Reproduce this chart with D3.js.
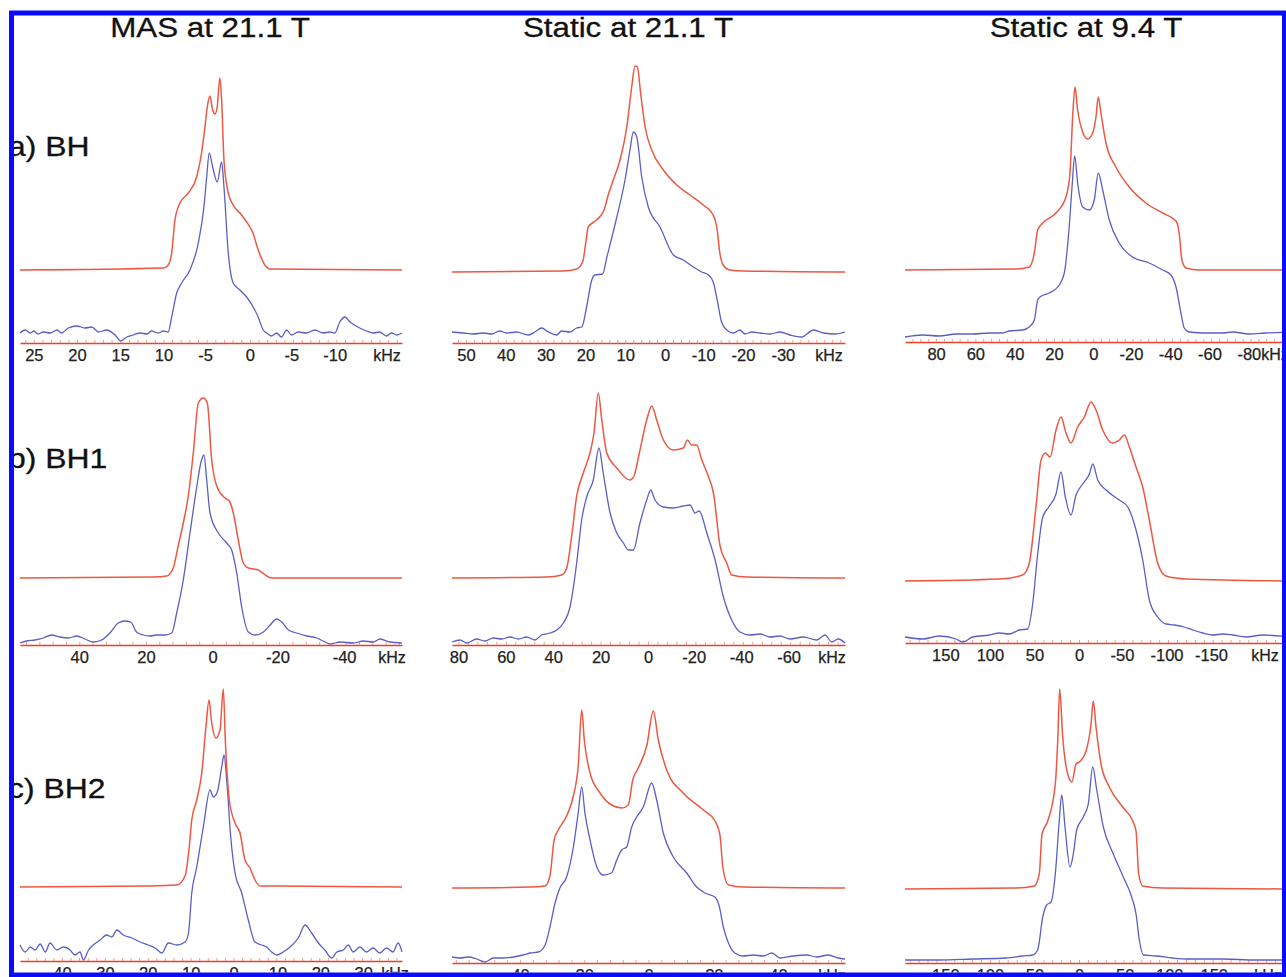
<!DOCTYPE html>
<html>
<head>
<meta charset="utf-8">
<script src="https://cdn.jsdelivr.net/npm/d3@7"></script>
<style>
  html, body { margin: 0; background: #fff; }
  svg { display: block; }
</style>
</head>
<body>
<div id="fig"></div>
<script>
/* 11B NMR spectra: simulated (red, top) vs experimental (blue, bottom) */

const columnTitles = ["MAS at 21.1 T", "Static at 21.1 T", "Static at 9.4 T"];
const rowLabels = ["a) BH", "b) BH1", "c) BH2"];

/* spectral window shown in each panel, kHz (left, right) */
const spanMas    = [[26.6, -17.6], [57.8, -56.9], [49.8, -39.3]];
const spanStat21 = [[53.5, -45.2], [82.7, -83.1], [61.2, -61.2]];
const spanStat94 = [[95.8, -100.1], [195.3, -236.8], [195.3, -236.8]];

/* tick values and the labels printed under them */
const ticksMas = [[25, 20, 15, 10, 5, 0, -5, -10], [40, 20, 0, -20, -40], [40, 30, 20, 10, 0, -10, -20, -30]];
const labelsMas = [["25", "20", "15", "10", "-5", "0", "-5", "-10"], ["40", "20", "0", "-20", "-40"],
  ["40", "30", "20", "10", "0", "-10", "-20", "-30"]];
const ticksStat21 = [[50, 40, 30, 20, 10, 0, -10, -20, -30], [80, 60, 40, 20, 0, -20, -40, -60], [40, 20, 0, -20, -40]];
const labelsStat21 = [["50", "40", "30", "20", "10", "0", "-10", "-20", "-30"],
  ["80", "60", "40", "20", "0", "-20", "-40", "-60"], ["40", "20", "0", "-20", "-40"]];
const ticksStat94 = [[80, 60, 40, 20, 0, -20, -40, -60, -80], [150, 100, 50, 0, -50, -100, -150], [150, 100, 50, 0, -50, -100, -150]];
const labelsStat94 = [["80", "60", "40", "20", "0", "-20", "-40", "-60", "-80"],
  ["150", "100", "50", "0", "-50", "-100", "-150"], ["150", "100", "50", "0", "-50", "-100", "-150"]];

/* spectra: [kHz, intensity a.u.] */
const bhMasSim = [[26.6,0],[10.0,2],[9.45,5],[9.05,17],[8.67,50],[8.09,67],[7.13,77],[6.16,93],[5.59,117],[5.2,143],[4.93,163],[4.62,174],[4.31,160],[4.05,156],[3.78,163],[3.47,192],[3.27,170],[3.0,110],[2.5,77],[1.93,65],[0.96,55],[0,43],[-0.31,38],[-0.96,20],[-1.73,5],[-2.31,1],[-17.6,0]];
const bhMasExp = [[26.6,10],[26.0,13],[25.4,10],[25.0,12],[24.5,9],[23.9,11],[23.1,10],[22.3,13],[21.8,10],[21.0,15],[20.0,17],[19.1,15],[18.3,16],[17.5,11],[16.6,13],[15.6,8],[14.95,2],[14.25,6],[13.5,8],[12.7,10],[11.9,9],[11.4,12],[10.6,10],[10.0,12],[9.45,11],[9.05,26],[8.47,50],[7.9,60],[6.94,73],[5.97,100],[5.32,136],[5.0,166],[4.7,190],[4.31,176],[3.78,161],[3.27,181],[3.0,156],[2.5,90],[1.93,60],[1.16,53],[0.38,46],[-0.38,36],[-0.96,26],[-1.54,13],[-1.93,10],[-2.5,7],[-3.08,10],[-3.66,6],[-4.24,13],[-4.82,8],[-5.59,11],[-6.55,10],[-7.51,13],[-8.47,10],[-9.25,11],[-9.83,10],[-10.4,21],[-11.0,26],[-11.6,21],[-12.1,18],[-12.7,15],[-13.5,12],[-14.3,10],[-15.0,11],[-15.8,7],[-16.4,10],[-17.0,8],[-17.6,10]];

const bhStat21Sim = [[53.5,0],[25.6,1],[22.2,3],[20.7,10],[19.8,32],[19.3,45],[17.2,52],[15.3,62],[14.2,78],[13.0,92],[11.3,112],[9.6,145],[8.37,185],[7.54,206],[6.95,205],[6.1,178],[5.0,145],[3.34,122],[0.42,102],[-2.94,87],[-6.28,77],[-9.6,67],[-12.1,57],[-13.0,45],[-13.8,18],[-14.6,7],[-16.3,2],[-19.7,1],[-45.2,0]];
const bhStat21Exp = [[53.5,11],[50.7,10],[48.2,9],[45.7,10],[43.5,9],[41.5,12],[39.8,10],[37.3,11],[34.3,8],[32.7,11],[31.0,15],[29.3,11],[27.2,8],[26.0,12],[23.9,11],[22.2,15],[20.9,16],[19.7,36],[18.4,63],[17.6,68],[15.7,69],[14.6,86],[12.1,126],[10.05,163],[8.8,193],[7.96,211],[7.1,206],[5.85,166],[4.2,136],[1.26,116],[-2.1,88],[-4.6,83],[-7.1,76],[-9.2,71],[-10.9,68],[-12.1,61],[-13.1,43],[-14.2,21],[-15.5,13],[-17.2,10],[-18.8,13],[-20.1,9],[-21.8,11],[-23.9,10],[-26.4,9],[-28.9,11],[-31.4,8],[-34.3,6],[-37.3,13],[-39.8,10],[-42.7,9],[-45.2,11]];

const bhStat94Sim = [[95.8,0],[39.3,1],[32.6,3],[30.0,17],[28.3,40],[25.7,47],[19.0,57],[13.9,73],[11.85,97],[10.5,153],[9.3,183],[7.95,160],[5.4,138],[2.85,131],[0.3,137],[-1.37,153],[-2.54,173],[-3.9,157],[-6.46,127],[-11.5,103],[-18.3,83],[-26.8,67],[-35.3,57],[-42.1,49],[-43.7,37],[-45.1,10],[-47.2,2],[-53.9,0],[-100.1,0]];
const bhStat94Exp = [[95.8,5],[86.8,7],[78.3,6],[69.8,8],[61.3,8],[52.9,9],[46.1,9],[42.7,11],[35.9,12],[32.6,15],[30.0,22],[28.3,42],[27.1,45],[22.4,49],[18.1,55],[14.75,69],[12.5,109],[10.8,155],[9.46,186],[7.95,159],[5.4,135],[2.03,132],[-0.5,142],[-2.54,169],[-4.78,152],[-8.14,122],[-13.2,99],[-20.0,85],[-28.5,79],[-35.3,72],[-39.5,67],[-42.1,55],[-44.6,29],[-46.3,14],[-48.8,10],[-57.3,9],[-65.8,9],[-70.9,10],[-79.3,8],[-87.8,9],[-100.1,10]];

const bh1MasSim = [[57.8,0],[17.8,1],[13.75,2],[11.8,10],[10.3,32],[8.77,55],[7.27,82],[5.77,125],[4.26,175],[2.76,180],[1.56,175],[0.24,118],[-1.26,92],[-3.75,80],[-5.05,77],[-6.25,65],[-7.75,38],[-9.25,15],[-10.75,10],[-13.75,8],[-16.3,2],[-17.8,0],[-56.9,0]];
const bh1MasExp = [[57.8,2],[55.8,4],[53.3,5],[50.8,7],[48.3,10],[45.8,8],[43.3,7],[40.8,9],[38.3,6],[35.8,3],[33.3,5],[30.8,12],[28.3,22],[26.3,24],[24.6,23],[22.8,13],[20.8,10],[18.8,9],[16.8,10],[14.3,10],[12.25,12],[10.75,32],[8.77,65],[6.76,112],[4.74,158],[3.45,183],[2.55,190],[1.74,165],[0.75,132],[-1.74,112],[-4.26,102],[-5.76,95],[-7.27,72],[-8.77,38],[-10.75,13],[-12.8,10],[-15.3,13],[-17.3,20],[-19.3,26],[-20.8,23],[-22.8,15],[-25.3,12],[-28.3,9],[-31.3,7],[-33.8,3],[-35.3,1],[-38.3,3],[-42.3,2],[-45.3,4],[-48.3,3],[-50.3,6],[-53.3,3],[-56.9,2]];

const bh1Stat21Sim = [[82.7,0],[42.7,1],[36.4,3],[34.3,10],[32.2,42],[30.1,82],[27.3,105],[24.5,125],[22.8,145],[21.0,185],[19.5,158],[17.4,125],[13.2,110],[7.6,98],[5.9,102],[3.67,125],[0.55,158],[-1.56,172],[-3.67,158],[-6.46,138],[-10.7,128],[-14.9,130],[-16.6,138],[-18.4,133],[-20.5,133],[-22.7,118],[-25.4,102],[-27.6,85],[-30.4,32],[-33.2,15],[-35.3,3],[-41.6,1],[-83.1,0]];
const bh1Stat21Exp = [[82.7,3],[79.3,5],[76.5,2],[72.3,6],[68.8,4],[65.3,7],[61.7,6],[58.2,8],[54.7,6],[51.2,8],[47.7,5],[44.9,10],[41.4,12],[38.5,15],[35.7,22],[32.9,38],[30.1,82],[28.0,125],[25.9,148],[23.1,165],[20.7,197],[18.9,172],[16.0,132],[13.2,112],[10.4,102],[8.3,95],[6.2,95],[3.4,122],[0.55,145],[-1.13,155],[-2.95,145],[-6.46,138],[-10.7,137],[-14.9,139],[-17.7,140],[-19.8,132],[-21.6,134],[-24.8,112],[-28.3,85],[-31.8,48],[-35.3,25],[-38.8,13],[-43.0,10],[-47.3,11],[-51.5,8],[-55.7,9],[-59.9,6],[-65.5,8],[-71.2,5],[-74.7,10],[-77.5,3],[-80.3,6],[-83.1,2]];

const bh1Stat94Sim = [[195.3,0],[89.5,2],[63.2,6],[55.8,18],[48.3,74],[42.6,121],[37.8,128],[32.5,124],[25.8,151],[20.2,164],[14.6,148],[9.0,138],[1.5,154],[-6,164],[-13.5,179],[-19.1,171],[-26.6,151],[-37.8,138],[-45.2,141],[-50.8,146],[-56.5,134],[-64,114],[-71.5,94],[-78.9,61],[-88.3,18],[-97.6,5],[-120.1,2],[-236.8,0]];
const bh1Stat94Exp = [[195.3,6],[175.4,4],[156.8,7],[138.0,4],[130.5,1],[119.3,6],[100.7,8],[89.5,10],[78.2,9],[67.0,13],[57.6,14],[52.0,39],[46.4,89],[40.7,126],[34.0,136],[25.8,149],[20.2,171],[15.4,146],[9.0,128],[3.4,148],[-4.2,159],[-11.6,169],[-15.4,179],[-21.0,163],[-30.3,153],[-45.2,143],[-54.7,136],[-64.0,113],[-71.5,83],[-78.9,43],[-88.3,26],[-97.6,19],[-107,18],[-118.2,16],[-127.6,13],[-138.8,10],[-150.1,8],[-161.3,9],[-172.5,8],[-187.4,6],[-206.2,8],[-236.8,6]];

const bh2MasSim = [[49.8,0],[19.5,1],[13.2,2],[11.3,11],[10.3,41],[9.74,67],[8.58,87],[7.41,114],[6.41,161],[5.71,187],[5.08,164],[4.08,149],[3.15,157],[2.38,198],[1.91,147],[0.98,87],[-0.35,64],[-1.52,54],[-2.68,27],[-3.85,19],[-5.01,7],[-6.18,1],[-10.1,1],[-39.3,0]];
const bh2MasExp = [[49.8,16],[48.6,9],[47.4,14],[46.3,11],[45.1,17],[43.9,9],[42.8,18],[41.2,11],[39.7,14],[38.1,11],[37.0,6],[35.8,9],[35.0,1],[33.8,11],[32.7,16],[31.1,21],[29.6,26],[28.4,24],[27.2,31],[25.7,26],[23.7,23],[21.8,19],[19.9,16],[18.3,13],[16.7,8],[15.2,18],[13.2,16],[11.3,19],[10.5,28],[9.74,68],[8.58,94],[7.04,134],[5.48,171],[4.71,164],[3.78,169],[2.75,194],[2.21,206],[1.59,181],[0.65,124],[-0.35,88],[-1.91,68],[-3.45,41],[-5.01,19],[-6.57,16],[-7.74,14],[-8.9,9],[-10.1,6],[-11.6,9],[-13.2,14],[-15.1,23],[-16.7,36],[-18.2,28],[-19.8,18],[-21.3,11],[-22.9,3],[-24.1,9],[-25.6,11],[-26.8,16],[-27.9,9],[-29.5,14],[-31.0,9],[-32.6,13],[-34.1,8],[-35.7,13],[-37.2,9],[-38.4,18],[-39.3,9]];

const bh2Stat21Sim = [[61.2,0],[36.9,1],[32.2,2],[30.7,12],[29.4,48],[28.1,58],[25.5,72],[23.4,92],[21.9,122],[20.8,178],[20.0,148],[18.2,115],[15.1,95],[11.5,83],[8.35,80],[6.3,83],[4.92,108],[3.18,120],[0.56,142],[-1.5,177],[-3.05,148],[-5.67,118],[-10.8,95],[-17.1,78],[-20.7,67],[-22.3,52],[-23.1,22],[-24.9,3],[-29.5,1],[-61.2,0]];
const bh2Stat21Exp = [[61.2,6],[58.7,5],[56.1,6],[53.5,4],[50.9,1],[48.3,5],[45.2,5],[42.1,6],[39.0,8],[36.9,10],[34.3,11],[32.2,18],[30.7,36],[29.1,60],[27.6,75],[25.5,86],[23.4,116],[21.9,150],[20.8,176],[19.8,150],[18.2,123],[16.1,96],[14.1,88],[11.5,90],[9.9,103],[8.35,113],[6.8,116],[5.23,136],[3.68,146],[1.62,156],[-1.0,180],[-2.55,163],[-4.6,130],[-7.73,106],[-11.9,90],[-15.0,76],[-17.6,70],[-20.7,66],[-22.1,56],[-23.3,36],[-24.9,20],[-26.9,10],[-29.5,7],[-32.6,8],[-35.8,7],[-38.4,10],[-41.0,5],[-45.1,7],[-49.3,8],[-52.4,6],[-56.0,8],[-59.1,5],[-61.2,4]];

const bh2Stat94Sim = [[195.3,0],[70.7,1],[50.2,3],[44.6,15],[41.5,55],[35.1,68],[26.6,105],[23.9,148],[21.7,200],[18.3,152],[12.7,115],[7.9,107],[3.4,125],[-0.3,127],[-7.9,138],[-13.5,165],[-16.0,188],[-19.1,162],[-24.7,125],[-34.0,102],[-49.0,82],[-60.3,68],[-64.0,58],[-67.0,15],[-71.5,3],[-93.9,1],[-236.8,0]];
const bh2Stat94Exp = [[195.3,3],[156.8,3],[119.3,4],[81.9,5],[63.2,7],[52.0,8],[46.4,13],[40.7,46],[36.3,58],[31.4,61],[26.6,89],[22.1,143],[19.4,168],[15.7,136],[10.1,96],[6.4,109],[2.6,133],[-4.8,146],[-10.4,159],[-15.4,196],[-19.9,173],[-27.3,136],[-38.5,109],[-49.7,86],[-59.1,66],[-64.0,49],[-67.7,23],[-72.2,8],[-86.4,7],[-105.2,5],[-123.8,4],[-161.3,4],[-198.7,3],[-236.8,3]];

/* grid of panels [row][col] */
const simData = [[bhMasSim, bhStat21Sim, bhStat94Sim], [bh1MasSim, bh1Stat21Sim, bh1Stat94Sim], [bh2MasSim, bh2Stat21Sim, bh2Stat94Sim]];
const expData = [[bhMasExp, bhStat21Exp, bhStat94Exp], [bh1MasExp, bh1Stat21Exp, bh1Stat94Exp], [bh2MasExp, bh2Stat21Exp, bh2Stat94Exp]];
const spans = [spanMas, spanStat21, spanStat94];
const ticks = [ticksMas, ticksStat21, ticksStat94];
const labels = [labelsMas, labelsStat21, labelsStat94];

/* layout */
const W = 1286, H = 977;
const FONT = '"Liberation Sans", Arial, Helvetica, sans-serif';
const SIM = "#ee5742", EXP = "#5a5fc6", AXIS = "#e9402c";
const colX = [[20, 402], [452, 845], [905, 1290]];
const titleX = [210, 628, 1086];
const axisY = [[343, 343, 342], [645, 645, 643], [961, 963, 963]];
const simLift = [[73, 71, 72], [67, 67, 62], [74, 75, 74]];
const minorStep = [[1, 2, 4], [4, 4, 10], [2, 4, 10]];
const unitX = [[387, 829, 1275], [392, 832, 1265], [395, 832, 1268]];
const labelY = [156, 468, 798];

const svg = d3.select("#fig").append("svg").attr("width", W).attr("height", H);
svg.append("rect").attr("width", W).attr("height", H).attr("fill", "#fff");
svg.append("defs").append("clipPath").attr("id", "frame")
  .append("rect").attr("x", 14).attr("y", 15.5).attr("width", 1268).attr("height", 957);
const g = svg.append("g").attr("clip-path", "url(#frame)");

/* titles and row labels (slightly wide lettering in the original) */
columnTitles.forEach((t, c) => {
  g.append("text").attr("transform", `translate(${titleX[c]},36.5) scale(1.1,1)`)
    .attr("text-anchor", "middle").attr("font-family", FONT).attr("font-size", 28.5)
    .attr("fill", "#111").attr("stroke", "#111").attr("stroke-width", 0.3).text(t);
});
rowLabels.forEach((t, r) => {
  g.append("text").attr("transform", `translate(8,${labelY[r]}) scale(1.16,1)`)
    .attr("font-family", FONT).attr("font-size", 27.5)
    .attr("fill", "#111").attr("stroke", "#111").attr("stroke-width", 0.3).text(t);
});

for (let r = 0; r < 3; r++) {
  for (let c = 0; c < 3; c++) {
    const span = spans[c][r];
    const ay = axisY[r][c];
    const x = d3.scaleLinear().domain(span).range(colX[c]);
    const y = d3.scaleLinear().domain([0, 250]).range([ay, ay - 250]);
    const pg = g.append("g");

    /* red axis line with small ticks */
    const lo = Math.min(...span), hi = Math.max(...span), st = minorStep[r][c];
    const minor = d3.range(Math.ceil(lo / st) * st, hi, st);
    pg.append("g").attr("transform", `translate(0,${ay})`)
      .call(d3.axisTop(x).tickValues(minor).tickSize(3).tickSizeOuter(0).tickFormat(""))
      .call(a => a.select(".domain").attr("stroke", AXIS).attr("stroke-width", 1.6))
      .call(a => a.selectAll(".tick line").attr("stroke", "#f19a8c").attr("stroke-width", 1));

    /* tick labels (digits centred on the tick, minus sign hangs left) */
    const lab = labels[c][r];
    pg.append("g").attr("transform", `translate(0,${ay})`)
      .call(d3.axisBottom(x).tickValues(ticks[c][r]).tickSize(0).tickSizeOuter(0).tickPadding(6)
        .tickFormat((d, i) => lab[i]))
      .attr("font-family", FONT).attr("font-size", 16.5)
      .call(a => a.select(".domain").remove())
      .call(a => a.selectAll("text").attr("fill", "#222").attr("stroke", "#222").attr("stroke-width", 0.25)
        .attr("dx", function () { return this.textContent.startsWith("-") ? "-0.1em" : null; }));
    pg.append("text").attr("x", unitX[r][c]).attr("y", ay + 18).attr("text-anchor", "middle")
      .attr("font-family", FONT).attr("font-size", 16).attr("fill", "#222")
      .attr("stroke", "#222").attr("stroke-width", 0.25).text("kHz");

    /* spectra */
    const lift = simLift[r][c];
    const expLine = d3.line().x(d => x(d[0])).y(d => y(d[1])).curve(d3.curveMonotoneX);
    const simLine = d3.line().x(d => x(d[0])).y(d => y(d[1] + lift)).curve(d3.curveMonotoneX);
    pg.append("path").attr("d", expLine(expData[r][c]))
      .attr("fill", "none").attr("stroke", EXP).attr("stroke-width", 1.3).attr("stroke-linejoin", "round");
    pg.append("path").attr("d", simLine(simData[r][c]))
      .attr("fill", "none").attr("stroke", SIM).attr("stroke-width", 1.5).attr("stroke-linejoin", "round");
  }
}

/* blue frame */
svg.append("rect").attr("x", 11.5).attr("y", 13).attr("width", 1273).attr("height", 962)
  .attr("fill", "none").attr("stroke", "#0a0aff").attr("stroke-width", 5);
</script>
</body>
</html>
